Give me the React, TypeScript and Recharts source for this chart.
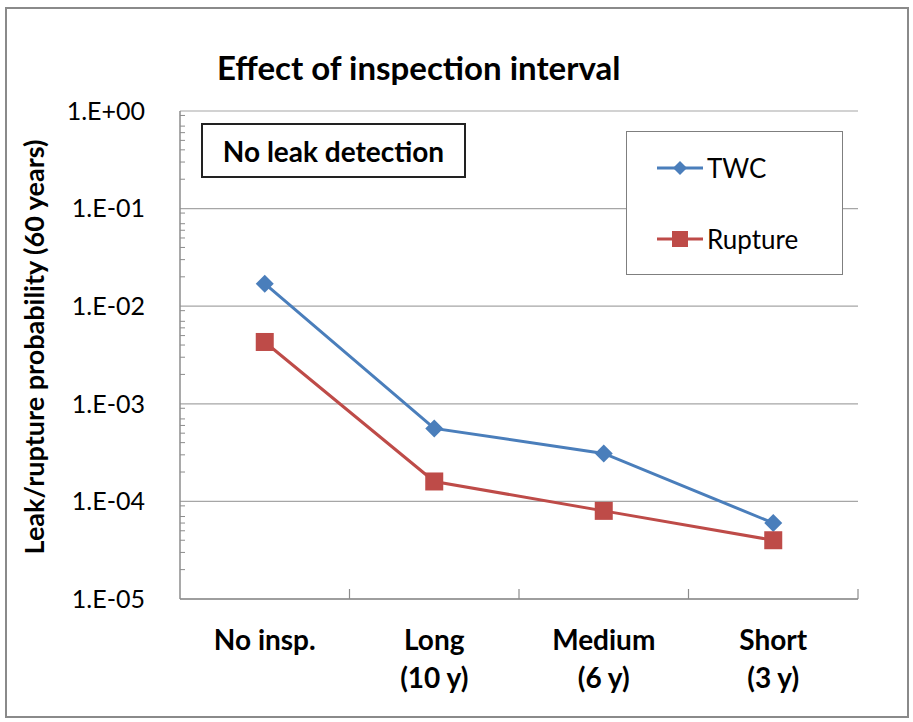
import { CartesianGrid, Legend, Line, LineChart, XAxis, YAxis } from "recharts"

// Categories and values
const categories = ["No insp.|", "Long|(10 y)", "Medium|(6 y)", "Short|(3 y)"]
const twc = [0.017, 0.00056, 0.00031, 0.00006]
const rupture = [0.0043, 0.00016, 0.00008, 0.00004]
const seriesOrder = ["TWC", "Rupture"]

const majorTicks = [1e-5, 1e-4, 1e-3, 1e-2, 1e-1, 1]
const majorLabels = ["1.E-05", "1.E-04", "1.E-03", "1.E-02", "1.E-01", "1.E+00"]
const minorMultipliers = [2, 3, 4, 5, 6, 7, 8, 9]

const minorTicks = majorTicks.slice(0, -1).flatMap((d) => minorMultipliers.map((m) => m * d))
const data = categories.map((cat, i) => ({ cat, twc: twc[i], rupture: rupture[i] }))

const BLUE = "#4a7ebb"
const RED = "#be4b48"
const AXIS = "#8c8c8c"
const FONT = "Lato, 'Open Sans', sans-serif"

const Diamond = ({ cx, cy, fill, r = 8 }: any) => (
  <polygon points={`${cx},${cy - r} ${cx + r},${cy} ${cx},${cy + r} ${cx - r},${cy}`} fill={fill} />
)
const Square = ({ cx, cy, fill, r = 9 }: any) => <rect x={cx - r} y={cy - r} width={r * 2} height={r * 2} fill={fill} />

// category label (two lines) plus an inward tick mark at the right edge of the band, Excel-style
const CatTick = ({ x, y, payload }: any) => {
  const [a, b] = String(payload.value).split("|")
  const half = payload.offset ?? 0
  return (
    <g transform={`translate(${x},${y})`}>
      {half ? <line x1={half} y1={0} x2={half} y2={-10} stroke={AXIS} strokeWidth={1.2} /> : null}
      <text textAnchor="middle" fontFamily={FONT} fontWeight="bold" fontSize={28} fill="#000">
        <tspan x={0} dy={51}>{a}</tspan>
        {b ? <tspan x={0} dy={38}>{b}</tspan> : null}
      </text>
    </g>
  )
}

const LegendBox = ({ payload }: any) => {
  const items = [...(payload || [])].sort((p: any, q: any) => seriesOrder.indexOf(p.value) - seriesOrder.indexOf(q.value))
  return (
    <div style={{ width: 217, height: 144, border: "1.5px solid #7f7f7f", background: "#fff", boxSizing: "border-box", paddingTop: 19 }}>
      {items.map((p: any, i: number) => (
        <div key={p.value} style={{ display: "flex", alignItems: "center", height: 34, marginBottom: i === 0 ? 37 : 0, paddingLeft: 30 }}>
          <svg width={46} height={24}>
            <line x1={0} y1={12} x2={46} y2={12} stroke={p.color} strokeWidth={3} />
            {p.dataKey === "twc" ? <Diamond cx={23} cy={12} r={7} fill={p.color} /> : <Square cx={23} cy={12} r={8} fill={p.color} />}
          </svg>
          <span style={{ fontFamily: FONT, fontSize: 26, color: "#000", marginLeft: 4 }}>{p.value}</span>
        </div>
      ))}
    </div>
  )
}

export default function App() {
  return (
    <div style={{ position: "absolute", left: 0, top: 0, width: 913, height: 722, background: "#fff" }}>
      <div style={{ position: "absolute", left: 5, top: 7, width: 900, height: 707, border: "2px solid #8a8a8a" }} />
      <div style={{ position: "absolute", left: 217, top: 47, fontFamily: FONT, fontWeight: "bold", fontSize: 33, color: "#000", whiteSpace: "nowrap" }}>
        Effect of inspection interval
      </div>
      <div
        style={{
          position: "absolute",
          left: 33,
          top: 347,
          transform: "translate(-50%, -50%) rotate(-90deg)",
          whiteSpace: "nowrap",
          fontFamily: FONT,
          fontWeight: "bold",
          fontSize: 27,
          color: "#000",
        }}
      >
        Leak/rupture probability (60 years)
      </div>
      <LineChart width={913} height={722} data={data} margin={{ top: 111, right: 55, left: 110, bottom: 43 }}>
        <CartesianGrid horizontal vertical={false} stroke="#a6a6a6" strokeWidth={1.2} />
        <XAxis
          dataKey="cat"
          scale="band"
          height={80}
          tickLine={false}
          tickSize={0}
          tickMargin={0}
          axisLine={{ stroke: AXIS, strokeWidth: 1.5 }}
          tick={<CatTick />}
          interval={0}
        />
        <YAxis
          scale="log"
          domain={[1e-5, 1]}
          allowDataOverflow
          ticks={majorTicks}
          tickFormatter={(v: number) => majorLabels[majorTicks.indexOf(v)] ?? ""}
          tickLine={false}
          tickMargin={29}
          width={70}
          axisLine={{ stroke: AXIS, strokeWidth: 1.5 }}
          tick={{ fontFamily: FONT, fontSize: 25, fill: "#000" }}
        />
        <YAxis
          yAxisId="minor"
          scale="log"
          domain={[1e-5, 1]}
          allowDataOverflow
          ticks={minorTicks}
          mirror
          tickSize={5}
          axisLine={false}
          tickLine={{ stroke: AXIS }}
          tickFormatter={() => ""}
          width={1}
        />
        <YAxis
          yAxisId="r"
          orientation="right"
          scale="log"
          domain={[1e-5, 1]}
          tick={false}
          tickLine={false}
          axisLine={{ stroke: AXIS, strokeWidth: 1.5 }}
          width={0}
        />
        <Legend layout="vertical" verticalAlign="middle" align="center" wrapperStyle={{ left: 626, top: 131, width: 217 }} content={<LegendBox />} />
        <Line
          name="TWC"
          dataKey="twc"
          stroke={BLUE}
          strokeWidth={3}
          isAnimationActive={false}
          dot={(p: any) => <Diamond key={p.index} cx={p.cx} cy={p.cy} fill={BLUE} r={9} />}
        />
        <Line
          name="Rupture"
          dataKey="rupture"
          stroke={RED}
          strokeWidth={3}
          isAnimationActive={false}
          dot={(p: any) => <Square key={p.index} cx={p.cx} cy={p.cy} fill={RED} r={9} />}
        />
      </LineChart>
      <div
        style={{
          position: "absolute",
          left: 201,
          top: 123,
          width: 265,
          height: 55,
          boxSizing: "border-box",
          border: "2px solid #222",
          fontFamily: FONT,
          fontWeight: "bold",
          fontSize: 28,
          color: "#000",
          display: "flex",
          alignItems: "center",
          justifyContent: "center",
        }}
      >
        No leak detection
      </div>
    </div>
  )
}
